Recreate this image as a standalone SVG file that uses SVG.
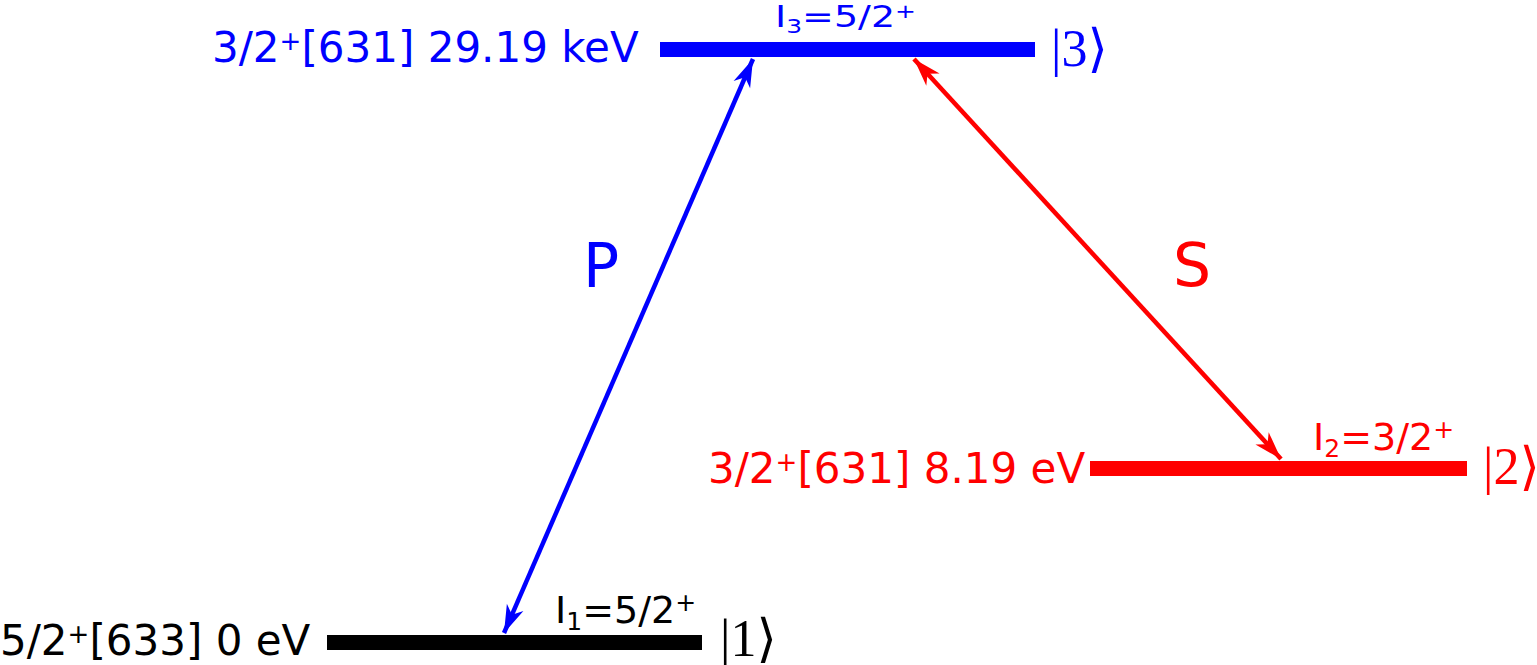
<svg xmlns="http://www.w3.org/2000/svg" width="1537" height="665" viewBox="0 0 1537 665">
<style>
.lbl{font-family:"DejaVu Sans","Liberation Sans",sans-serif;font-size:42px}
.sm{font-family:"DejaVu Sans","Liberation Sans",sans-serif;font-size:38px}
.ket{font-family:"Liberation Serif","DejaVu Serif",serif;font-size:52px}
.big{font-family:"DejaVu Sans","Liberation Sans",sans-serif;font-size:60px}
.blue{fill:#0000ff}
.red{fill:#ff0000}
.black{fill:#000000}
</style>
<defs>
<marker id="hb" viewBox="-30 -10 32 20" refX="0" refY="0" markerWidth="32" markerHeight="20" markerUnits="userSpaceOnUse" orient="auto-start-reverse">
<path d="M0,0 L-28,-9 L-20,0 L-28,9 Z" fill="#0000ff"/>
</marker>
<marker id="hr" viewBox="-30 -10 32 20" refX="0" refY="0" markerWidth="32" markerHeight="20" markerUnits="userSpaceOnUse" orient="auto-start-reverse">
<path d="M0,0 L-28,-9 L-20,0 L-28,9 Z" fill="#ff0000"/>
</marker>
</defs>
<g id="level3">
<rect x="660" y="42" width="375" height="15" class="blue"/>
<text class="lbl blue" x="212" y="62">3/2<tspan font-size="26" dy="-12">+</tspan><tspan dy="12">[631] 29.19 keV</tspan></text>
<text class="sm blue" transform="translate(775,27) scale(1,0.79)" x="0" y="0">I<tspan font-size="25" dy="7">3</tspan><tspan dy="-7">=5/2</tspan><tspan font-size="25" dy="-12">+</tspan></text>
<text class="ket blue" x="1051" y="66">|3⟩</text>
</g>
<g id="level2">
<rect x="1090" y="461" width="377" height="15" class="red"/>
<text class="lbl red" x="708" y="483">3/2<tspan font-size="26" dy="-12">+</tspan><tspan dy="12">[631] 8.19 eV</tspan></text>
<text class="sm red" x="1313" y="450">I<tspan font-size="25" dy="7">2</tspan><tspan dy="-7">=3/2</tspan><tspan font-size="25" dy="-12">+</tspan></text>
<text class="ket red" x="1483" y="484">|2⟩</text>
</g>
<g id="level1">
<rect x="327" y="635" width="375" height="15" class="black"/>
<text class="lbl black" x="0" y="655">5/2<tspan font-size="26" dy="-12">+</tspan><tspan dy="12">[633] 0 eV</tspan></text>
<text class="sm black" x="555" y="623">I<tspan font-size="25" dy="7">1</tspan><tspan dy="-7">=5/2</tspan><tspan font-size="25" dy="-12">+</tspan></text>
<text class="ket black" x="720" y="656">|1⟩</text>
</g>
<g id="connectors">
<line x1="504" y1="633" x2="753" y2="59" stroke="#0000ff" stroke-width="4.5" marker-start="url(#hb)" marker-end="url(#hb)"/>
<line x1="914" y1="59" x2="1281" y2="459" stroke="#ff0000" stroke-width="4.5" marker-start="url(#hr)" marker-end="url(#hr)"/>
<text class="big blue" x="583" y="287">P</text>
<text class="big red" x="1173" y="286">S</text>
</g>
</svg>
